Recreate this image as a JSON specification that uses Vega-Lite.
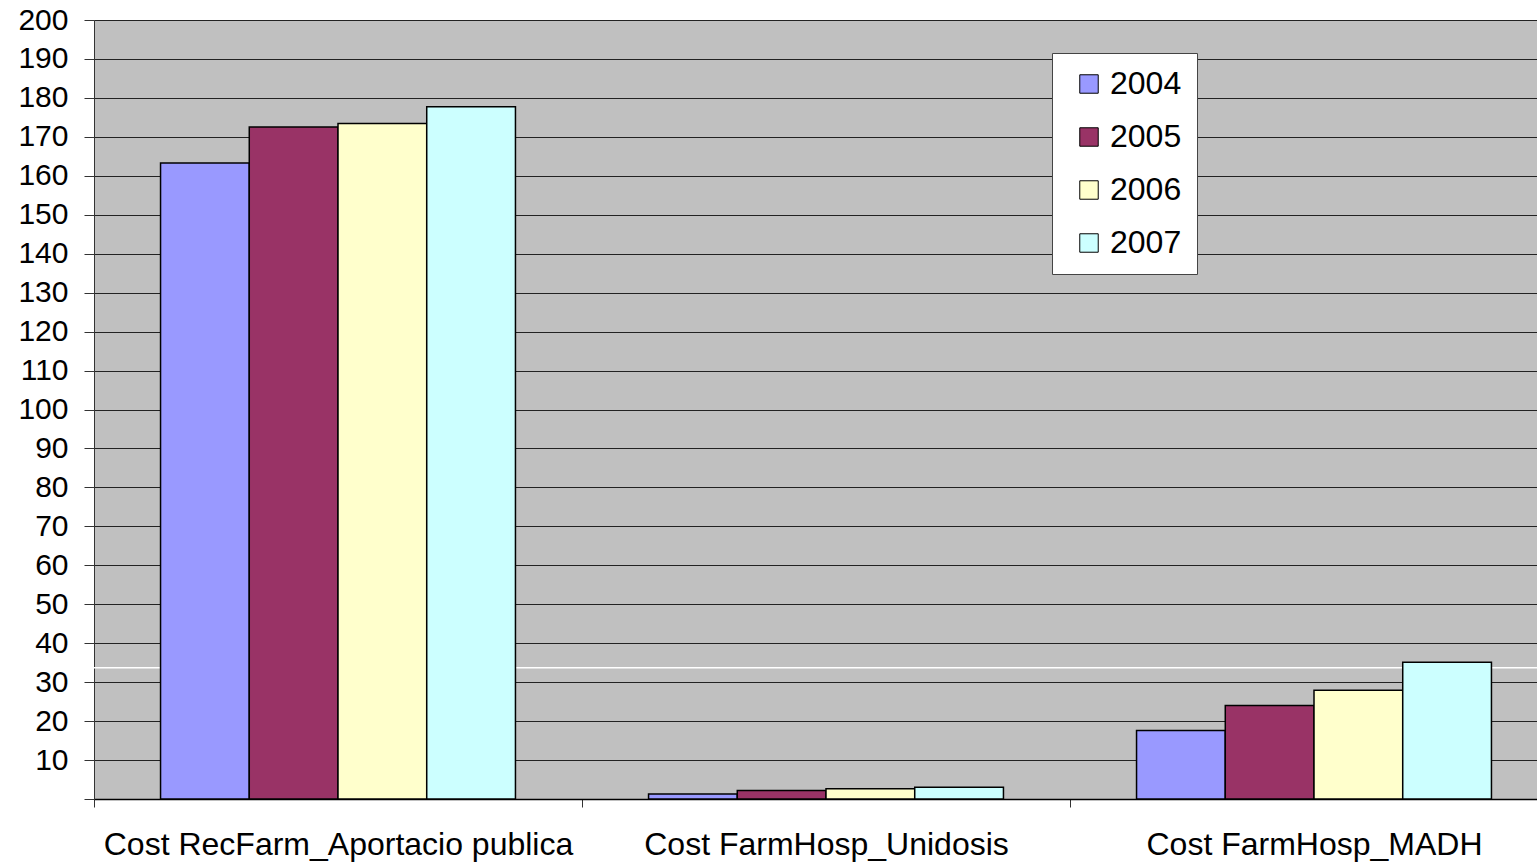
{
  "$schema": "https://vega.github.io/schema/vega-lite/v6.json",
  "width": 1443,
  "height": 779,
  "autosize": {"type": "none"},
  "padding": {"left": 94, "top": 20, "right": 0, "bottom": 67},
  "background": "white",
  "config": {
    "view": {"fill": "#C0C0C0", "stroke": null},
    "font": "Liberation Sans",
    "axisY": {
      "values": [0, 10, 20, 30, 40, 50, 60, 70, 80, 90, 100, 110, 120, 130, 140, 150, 160, 170, 180, 190, 200],
      "labelExpr": "datum.value == 0 ? '' : datum.label",
      "labelFontSize": 30,
      "labelColor": "black",
      "labelPadding": 16,
      "labelOverlap": false,
      "tickSize": 10,
      "tickColor": "#333",
      "domainColor": "#333",
      "grid": true,
      "gridColor": "#222",
      "gridWidth": 1.2,
      "gridOpacity": 1,
      "title": null
    }
  },
  "datasets": {
    "costs": [
      {"category": "Cost RecFarm_Aportacio publica", "year": "2004", "value": 163.3},
      {"category": "Cost RecFarm_Aportacio publica", "year": "2005", "value": 172.5},
      {"category": "Cost RecFarm_Aportacio publica", "year": "2006", "value": 173.4},
      {"category": "Cost RecFarm_Aportacio publica", "year": "2007", "value": 177.7},
      {"category": "Cost FarmHosp_Unidosis", "year": "2004", "value": 1.3},
      {"category": "Cost FarmHosp_Unidosis", "year": "2005", "value": 2.2},
      {"category": "Cost FarmHosp_Unidosis", "year": "2006", "value": 2.6},
      {"category": "Cost FarmHosp_Unidosis", "year": "2007", "value": 3.0},
      {"category": "Cost FarmHosp_MADH", "year": "2004", "value": 17.6},
      {"category": "Cost FarmHosp_MADH", "year": "2005", "value": 24.0},
      {"category": "Cost FarmHosp_MADH", "year": "2006", "value": 27.9},
      {"category": "Cost FarmHosp_MADH", "year": "2007", "value": 35.1}
    ],
    "artifact": [{"value": 33.7}]
  },
  "layer": [
    {
      "data": {"name": "artifact"},
      "mark": {"type": "rule", "color": "white", "strokeWidth": 1.5},
      "encoding": {
        "y": {"field": "value", "type": "quantitative", "scale": {"domain": [0, 200]}}
      }
    },
    {
      "data": {"name": "costs"},
      "mark": {"type": "bar", "stroke": "black", "strokeWidth": 1.5},
      "encoding": {
        "x": {
          "field": "category",
          "type": "nominal",
          "sort": ["Cost RecFarm_Aportacio publica", "Cost FarmHosp_Unidosis", "Cost FarmHosp_MADH"],
          "scale": {"range": [0, 1464], "paddingInner": 0, "paddingOuter": 0},
          "axis": {
            "title": null,
            "labelAngle": 0,
            "labelFontSize": 32,
            "labelColor": "black",
            "labelPadding": 22,
            "labelLimit": 600,
            "tickBand": "extent",
            "tickSize": 8,
            "tickColor": "#333",
            "domainColor": "black",
            "domainWidth": 1.5,
            "grid": false
          }
        },
        "xOffset": {
          "field": "year",
          "type": "nominal",
          "scale": {"paddingInner": 0, "paddingOuter": 0.75}
        },
        "y": {
          "field": "value",
          "type": "quantitative",
          "scale": {"domain": [0, 200]}
        },
        "color": {
          "field": "year",
          "type": "nominal",
          "scale": {"domain": ["2004", "2005", "2006", "2007"], "range": ["#9999FF", "#993366", "#FFFFCC", "#CCFFFF"]},
          "legend": {
            "title": null,
            "orient": "none",
            "legendX": 958,
            "legendY": 33,
            "fillColor": "white",
            "strokeColor": "#444",
            "padding": 15,
            "symbolType": "square",
            "symbolSize": 340,
            "symbolStrokeColor": "black",
            "symbolStrokeWidth": 1,
            "symbolOpacity": 1,
            "symbolOffset": 6,
            "labelFontSize": 32,
            "labelColor": "black",
            "labelOffset": 5,
            "rowPadding": 21
          }
        }
      }
    }
  ]
}
